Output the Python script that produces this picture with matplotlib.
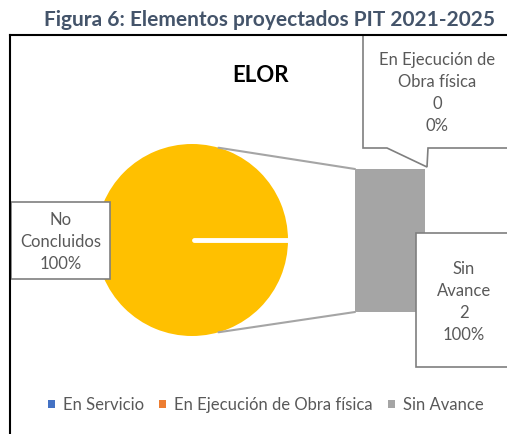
import numpy as np
import matplotlib
matplotlib.use("Agg")
import matplotlib.pyplot as plt
from matplotlib.patches import ConnectionPatch, Polygon, Rectangle
from matplotlib.lines import Line2D

plt.rcParams['font.family'] = ['Lato', 'DejaVu Sans']

# datos
title = "Figura 6: Elementos proyectados PIT 2021-2025"
chart_name = "ELOR"
pie_labels = ["No Concluidos"]
pie_values = [100]
bar_labels = ["En Servicio", "En Ejecución de Obra física", "Sin Avance"]
bar_values = [0, 0, 2]
bar_colors = ["#4472C4", "#ED7D31", "#A5A5A5"]

W, H = 507, 434
fig = plt.figure(figsize=(W / 100, H / 100), dpi=100)


def fx(x):
    return x / W


def fy(y):
    return 1 - y / H


txt_color = "#595959"
box_edge = "#7F7F7F"

# marco del grafico
fig.add_artist(Line2D([fx(10), fx(10)], [fy(35), fy(440)], color="black", lw=1.5))
fig.add_artist(Line2D([fx(10), fx(510)], [fy(35), fy(35)], color="black", lw=1.5))

fig.text(fx(270), fy(20), title, ha="center", va="center", fontsize=15,
         fontweight="bold", color="#44546A")
fig.text(fx(260), fy(76), chart_name, ha="center", va="center", fontsize=16,
         fontweight="bold", color="black")

# pie
start = 0
ax_pie = fig.add_axes([fx(96), fy(336), 192 / W, 192 / H])
ax_pie.pie(pie_values, colors=["#FFC000"], startangle=start,
           wedgeprops=dict(edgecolor="none"))
# borde del sector (blanco)
ax_pie.plot([0.02 * np.cos(np.deg2rad(start)), np.cos(np.deg2rad(start))],
            [0, np.sin(np.deg2rad(start))], color="white", lw=3.5, solid_capstyle="round")
ax_pie.set_xlim(-1, 1)
ax_pie.set_ylim(-1, 1)
ax_pie.axis("off")

# barra
total = sum(bar_values)
ax_bar = fig.add_axes([fx(355), fy(312), 70 / W, 143 / H])
bottom = 0
handles = []
for lab, v, c in zip(bar_labels, bar_values, bar_colors):
    b = ax_bar.bar(0, v, width=1, bottom=bottom, color=c, label=lab)
    handles.append(b)
    bottom += v
ax_bar.set_xlim(-0.5, 0.5)
ax_bar.set_ylim(0, total)
ax_bar.axis("off")

# lineas de conexion
ang = np.deg2rad(74)
for sgn, yb in [(1, total), (-1, 0)]:
    con = ConnectionPatch(xyA=(np.cos(ang), sgn * np.sin(ang)), coordsA=ax_pie.transData,
                          xyB=(-0.5, yb), coordsB=ax_bar.transData,
                          color="#A5A5A5", lw=1.5)
    fig.add_artist(con)

# etiquetas
pct = [v / total for v in bar_values]

fig.add_artist(Rectangle((fx(11), fy(279)), 99 / W, 77 / H, transform=fig.transFigure,
                         facecolor="white", edgecolor=box_edge, lw=1.2))
fig.text(fx(61), fy(242), "No\nConcluidos\n%d%%" % pie_values[0], ha="center", va="center",
         fontsize=12, color=txt_color, linespacing=1.45)

call = [(363, 35), (363, 148), (387, 148), (427, 167), (428, 148), (510, 148), (510, 35)]
fig.add_artist(Polygon([(fx(x), fy(y)) for x, y in call], closed=True, transform=fig.transFigure,
                       facecolor="white", edgecolor=box_edge, lw=1.2))
fig.text(fx(437), fy(93), "En Ejecución de\nObra física\n%d\n%d%%" % (bar_values[1], pct[1] * 100),
         ha="center", va="center", fontsize=12, color=txt_color, linespacing=1.45)

fig.add_artist(Rectangle((fx(416), fy(367)), 94 / W, 134 / H, transform=fig.transFigure,
                         facecolor="white", edgecolor=box_edge, lw=1.2))
fig.text(fx(464), fy(302), "Sin\nAvance\n%d\n%d%%" % (bar_values[2], pct[2] * 100),
         ha="center", va="center", fontsize=12, color=txt_color, linespacing=1.45)

fig.legend(handles=handles, labels=bar_labels, loc="center", bbox_to_anchor=(fx(266), fy(405)),
           ncol=3, frameon=False, fontsize=12, handlelength=0.4, handleheight=0.3,
           handletextpad=0.5, columnspacing=0.9, labelcolor=txt_color)

fig.savefig("out.png", dpi=100)
